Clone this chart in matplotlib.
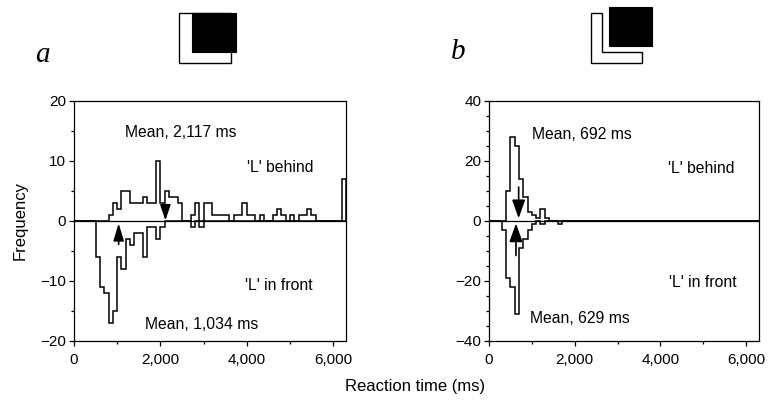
import numpy as np
import matplotlib
matplotlib.use('Agg')
import matplotlib.pyplot as plt
from matplotlib.patches import Rectangle, Polygon
from matplotlib.ticker import MultipleLocator, FuncFormatter

plt.rcParams['font.family'] = ['Liberation Sans', 'DejaVu Sans']

BIN = 100  # ms per bin
X_MAX = 6300

# panel a : counts per 100 ms bin, keyed by bin start (ms)
a_behind_t = [800, 900, 1000, 1100, 1200, 1300, 1400, 1500, 1600, 1700, 1800,
              1900, 2000, 2100, 2200, 2300, 2400, 2700, 2800, 3000, 3100, 3200,
              3300, 3400, 3500, 3700, 3800, 3900, 4000, 4100, 4300, 4600, 4700,
              4800, 5000, 5200, 5300, 5400, 5500, 6200]
a_behind_n = [1, 3, 2, 5, 5, 3, 3, 3, 4, 3, 3,
              10, 3, 5, 4, 4, 3, 1, 3, 3, 3, 1,
              1, 1, 1, 1, 1, 3, 1, 1, 1, 1, 2,
              1, 1, 1, 1, 2, 1, 7]
a_front_t = [500, 600, 700, 800, 900, 1000, 1100, 1200, 1300, 1400, 1500,
             1600, 1700, 1800, 1900, 2000, 2700, 2900]
a_front_n = [6, 11, 12, 17, 15, 6, 8, 3, 4, 2, 2,
             6, 1, 1, 3, 1, 1, 1]
a_means = (2117, 1034)

# panel b
b_behind_t = [400, 500, 600, 700, 800, 900, 1000, 1100, 1200, 1300]
b_behind_n = [10, 28, 25, 14, 8, 3, 2, 1, 4, 1]
b_front_t = [300, 400, 500, 600, 700, 800, 900, 1000, 1200, 1600]
b_front_n = [3, 19, 22, 31, 9, 6, 3, 1, 1, 1]
b_means = (692, 629)


def to_counts(starts, counts):
    edges = np.arange(0, X_MAX + BIN, BIN)
    vals = np.zeros(len(edges) - 1)
    for t, n in zip(starts, counts):
        vals[t // BIN] = n
    return edges, vals


def comma(v, pos):
    return f'{int(v):,}'


fig = plt.figure(figsize=(7.68, 4.07), dpi=100)
W, H = 768.0, 407.0


def panel(left_px, width_px, ylim, ymajor, yminor):
    ax = fig.add_axes([left_px / W, 1 - 341 / H, width_px / W, 240 / H])
    ax.set_xlim(0, X_MAX)
    ax.set_ylim(-ylim, ylim)
    ax.xaxis.set_major_locator(MultipleLocator(2000))
    ax.xaxis.set_minor_locator(MultipleLocator(1000))
    ax.xaxis.set_major_formatter(FuncFormatter(comma))
    ax.yaxis.set_major_locator(MultipleLocator(ymajor))
    ax.yaxis.set_minor_locator(MultipleLocator(yminor))
    ax.tick_params(which='both', direction='out', width=0.9, colors='k',
                   labelsize=11, top=False, right=False)
    ax.tick_params(which='major', length=3.5)
    ax.tick_params(which='minor', length=2.5)
    ax.tick_params(axis='x', which='major', pad=5.5)
    ax.tick_params(axis='y', which='major', pad=2)
    for s in ax.spines.values():
        s.set_linewidth(0.9)
    ax.axhline(0, color='k', lw=0.9)
    return ax


def arrow(ax, x, tail, tip, hl, hw):
    ax.annotate('', xy=(x, tip), xytext=(x, tail),
                arrowprops=dict(arrowstyle=f'-|>,head_length={hl},head_width={hw}',
                                mutation_scale=1, color='k', lw=1.2,
                                shrinkA=0, shrinkB=0))


txt = dict(fontsize=11.3, va='center', ha='left')

# ---------------- panel a ----------------
ax1 = panel(74, 272, 20, 10, 5)
e, v = to_counts(a_behind_t, a_behind_n)
ax1.stairs(v, e, baseline=0, color='k', lw=1.1)
e, v = to_counts(a_front_t, a_front_n)
ax1.stairs(-v, e, baseline=0, color='k', lw=1.1)
arrow(ax1, a_means[0], 2.5, 0.1, 9.4, 3.2)
arrow(ax1, a_means[1], -3.9, -0.4, 10.5, 3.2)
ax1.text(1180, 14.7, 'Mean, 2,117 ms', **txt)
ax1.text(4010, 9.0, "'L' behind", **txt)
ax1.text(3950, -10.8, "'L' in front", **txt)
ax1.text(1640, -17.3, 'Mean, 1,034 ms', **txt)

# ---------------- panel b ----------------
ax2 = panel(489, 270, 40, 20, 5)
e, v = to_counts(b_behind_t, b_behind_n)
ax2.stairs(v, e, baseline=0, color='k', lw=1.1)
e, v = to_counts(b_front_t, b_front_n)
ax2.stairs(-v, e, baseline=0, color='k', lw=1.1)
arrow(ax2, b_means[0], 11.3, 0.9, 11.2, 4.0)
arrow(ax2, b_means[1], -11.5, -0.8, 11.2, 4.0)
ax2.text(1010, 28.9, 'Mean, 692 ms', **txt)
ax2.text(4180, 17.4, "'L' behind", **txt)
ax2.text(4200, -20.4, "'L' in front", **txt)
ax2.text(950, -32.4, 'Mean, 629 ms', **txt)

# axis labels
fig.text(20 / W, 1 - 221 / H, 'Frequency', rotation=90, ha='center',
         va='center', fontsize=12)
fig.text(415 / W, 1 - 387 / H, 'Reaction time (ms)', ha='center',
         va='center', fontsize=12)

# panel letters
fig.text(42 / W, 1 - 55 / H, 'a', family=['Liberation Serif', 'DejaVu Serif'],
         style='italic', fontsize=21, ha='center', va='center')
fig.text(458 / W, 1 - 52 / H, 'b', family=['Liberation Serif', 'DejaVu Serif'],
         style='italic', fontsize=21, ha='center', va='center')

# stimulus icons (pixel coordinates of the page)
ov = fig.add_axes([0, 0, 1, 1], zorder=-1)
ov.set_xlim(0, W)
ov.set_ylim(H, 0)
ov.axis('off')
ov.add_patch(Rectangle((179, 12.7), 52, 50.6, fc='white', ec='k', lw=1.0))
ov.add_patch(Rectangle((192.3, 12.7), 43.4, 39.6, fc='k', ec='k', lw=0.8))
ov.add_patch(Polygon([(590.7, 12.7), (602.3, 12.7), (602.3, 52.3), (641.7, 52.3),
                      (641.7, 63.3), (590.7, 63.3)], closed=True,
                     fc='white', ec='k', lw=1.0))
ov.add_patch(Rectangle((609, 6.7), 43.3, 39, fc='k', ec='k', lw=0.8))

fig.savefig('out.png', dpi=100)
